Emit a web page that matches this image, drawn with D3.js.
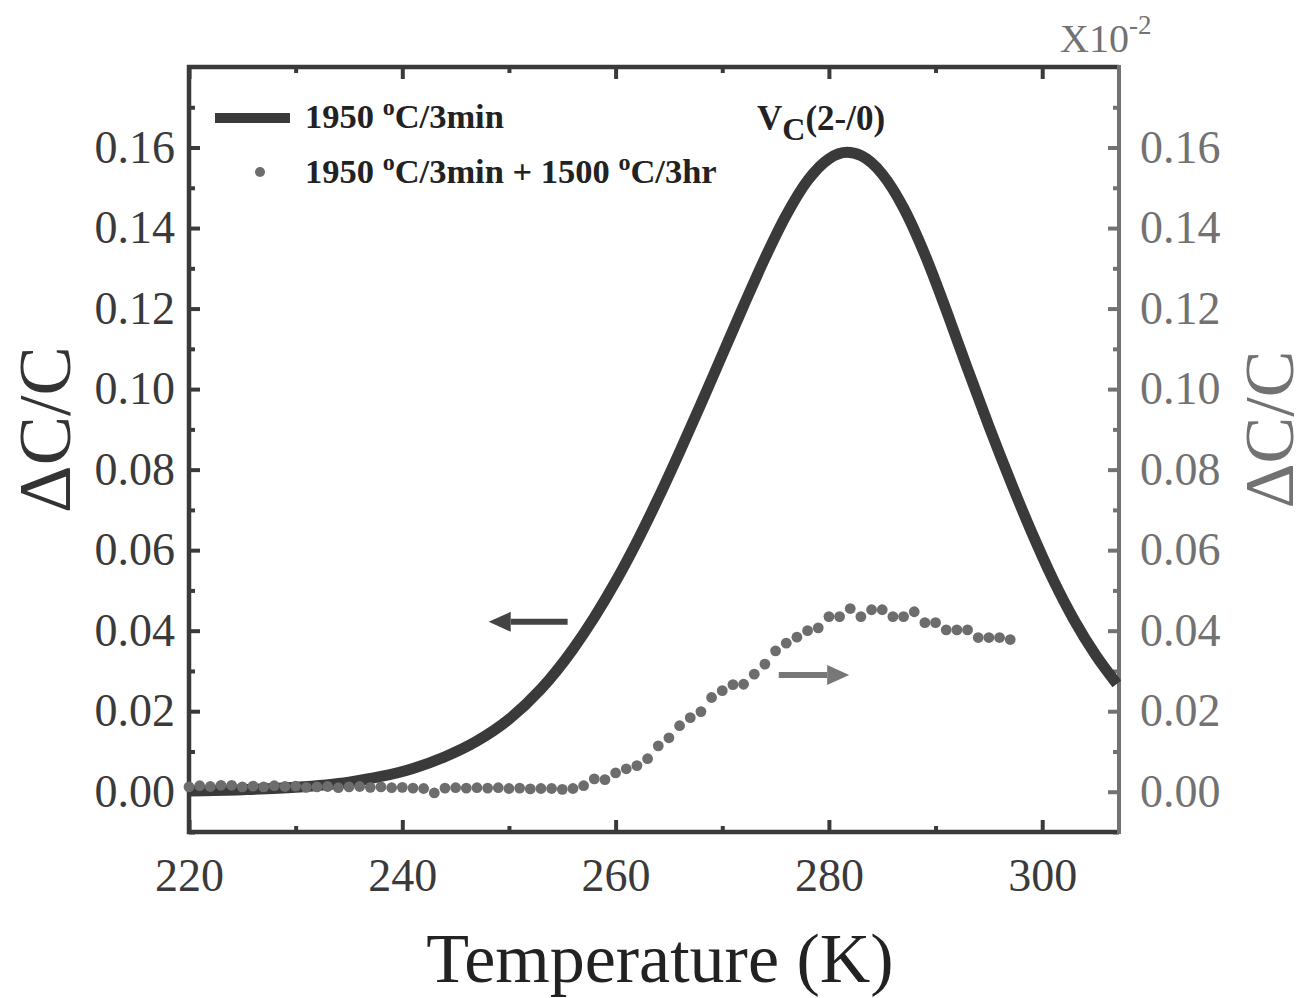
<!DOCTYPE html>
<html>
<head>
<meta charset="utf-8">
<script src="https://cdn.jsdelivr.net/npm/d3@7"></script>
<style>
body { margin: 0; background: #fff; }
text { font-family: "Liberation Serif", "Times New Roman", serif; }
</style>
</head>
<body>
<script>
// solid curve: 1950 C / 3min (left axis)
var curveT = [220, 225, 230, 235, 238, 241, 244, 247, 250, 253, 256, 258, 260, 262, 264, 266, 268, 270, 272, 274, 276, 278, 280, 281.7, 283, 285, 287, 289, 291, 293, 295, 297, 299, 301, 303, 305, 307];
var curveV = [0.0002, 0.0005, 0.0011, 0.0024, 0.0038, 0.0058, 0.0087, 0.0126, 0.0180, 0.0255, 0.0354, 0.0433, 0.0522, 0.0621, 0.0729, 0.0844, 0.0963, 0.1085, 0.1207, 0.1325, 0.1432, 0.1518, 0.1572, 0.1588, 0.1580, 0.1534, 0.1450, 0.1334, 0.1196, 0.1050, 0.0908, 0.0773, 0.0645, 0.0528, 0.0426, 0.0340, 0.0268];

// dots: 1950 C / 3min + 1500 C / 3hr (right axis, x10^-2)
var dotT = [220, 221, 222, 223, 224, 225, 226, 227, 228, 229, 230, 231, 232, 233, 234, 235, 236, 237, 238, 239,
            240, 241, 242, 243, 244, 245, 246, 247, 248, 249, 250, 251, 252, 253, 254, 255, 256, 257, 258, 259,
            260, 261, 262, 263, 264, 265, 266, 267, 268, 269, 270, 271, 272, 273, 274, 275, 276, 277, 278, 279,
            280, 281, 282, 283, 284, 285, 286, 287, 288, 289, 290, 291, 292, 293, 294, 295, 296, 297];
var dotV = [0.0012, 0.0015, 0.0013, 0.0016, 0.0016, 0.0012, 0.0014, 0.0012, 0.0015, 0.0013, 0.0014, 0.0011, 0.0012, 0.0013, 0.0010, 0.0012, 0.0013, 0.0011, 0.0012, 0.0010,
            0.0011, 0.0009, 0.0008, -0.0003, 0.0009, 0.0010, 0.0009, 0.0010, 0.0009, 0.0010, 0.0008, 0.0009, 0.0007, 0.0008, 0.0008, 0.0006, 0.0008, 0.0015, 0.0032, 0.0030,
            0.0047, 0.0057, 0.0065, 0.0082, 0.0114, 0.0134, 0.0164, 0.0184, 0.0199, 0.0234, 0.0251, 0.0266, 0.0267, 0.0292, 0.0317, 0.0350, 0.0369, 0.0384, 0.0400, 0.0407,
            0.0435, 0.0435, 0.0455, 0.0435, 0.0452, 0.0452, 0.0435, 0.0435, 0.0447, 0.0420, 0.0420, 0.0402, 0.0402, 0.0402, 0.0383, 0.0383, 0.0383, 0.0378];

var xTicks = [220, 240, 260, 280, 300];
var xMinor = [230, 250, 270, 290];
var yTicks = [0, 0.02, 0.04, 0.06, 0.08, 0.10, 0.12, 0.14, 0.16];
var yMinor = [-0.01, 0.01, 0.03, 0.05, 0.07, 0.09, 0.11, 0.13, 0.15, 0.17];

var w = 1311, h = 998;
var margin = {left: 189, right: 192, top: 67, bottom: 166};
var dark = "#3a3a3a", grey = "#727272";

var svg = d3.select("body").append("svg")
    .attr("width", w)
    .attr("height", h);

var x = d3.scaleLinear().domain([220, 307.2]).range([margin.left, w - margin.right]);
var y = d3.scaleLinear().domain([-0.01, 0.18]).range([h - margin.bottom, margin.top]);

var x0 = x.range()[0], x1 = x.range()[1], y0 = y.range()[0], y1 = y.range()[1];

function styleAxis(g, color, fs) {
    g.select(".domain").remove();
    g.selectAll("line").attr("stroke", color).attr("stroke-width", 4);
    g.selectAll("text").attr("fill", color).attr("font-size", fs)
        .attr("font-family", "'Liberation Serif', 'Times New Roman', serif");
}

// left axis
svg.append("g").attr("transform", "translate(" + x0 + ",0)")
    .call(d3.axisLeft(y).tickValues(yTicks).tickSize(-11).tickPadding(14).tickFormat(d3.format(".2f")))
    .call(styleAxis, dark, 46);
svg.append("g").attr("transform", "translate(" + x0 + ",0)")
    .call(d3.axisLeft(y).tickValues(yMinor).tickSize(-6).tickFormat(""))
    .call(styleAxis, dark, 46);

// right axis
svg.append("g").attr("transform", "translate(" + x1 + ",0)")
    .call(d3.axisRight(y).tickValues(yTicks).tickSize(-11).tickPadding(21).tickFormat(d3.format(".2f")))
    .call(styleAxis, grey, 46);
svg.append("g").attr("transform", "translate(" + x1 + ",0)")
    .call(d3.axisRight(y).tickValues(yMinor).tickSize(-6).tickFormat(""))
    .call(styleAxis, grey, 46);

// bottom axis
svg.append("g").attr("transform", "translate(0," + y0 + ")")
    .call(d3.axisBottom(x).tickValues(xTicks).tickSize(-12).tickPadding(26).tickFormat(d3.format("d")))
    .call(styleAxis, dark, 46);
svg.append("g").attr("transform", "translate(0," + y0 + ")")
    .call(d3.axisBottom(x).tickValues(xMinor).tickSize(-6).tickFormat(""))
    .call(styleAxis, dark, 46);

// top axis
svg.append("g").attr("transform", "translate(0," + y1 + ")")
    .call(d3.axisTop(x).tickValues(xTicks).tickSize(-12).tickFormat(""))
    .call(styleAxis, dark, 46);
svg.append("g").attr("transform", "translate(0," + y1 + ")")
    .call(d3.axisTop(x).tickValues(xMinor).tickSize(-6).tickFormat(""))
    .call(styleAxis, dark, 46);

// frame
svg.append("path").attr("d", "M" + x1 + "," + y1 + "H" + x0 + "V" + y0 + "H" + x1)
    .attr("fill", "none").attr("stroke", dark).attr("stroke-width", 4.5);
svg.append("line").attr("x1", x1).attr("x2", x1).attr("y1", y1 - 2).attr("y2", y0 + 2)
    .attr("stroke", grey).attr("stroke-width", 4);

// data
var curve = curveT.map(function(t, i) { return [t, curveV[i]]; });
var line = d3.line()
    .x(function(d) { return x(d[0]); })
    .y(function(d) { return y(d[1]); })
    .curve(d3.curveMonotoneX);

svg.append("path").datum(curve)
    .attr("d", line)
    .attr("fill", "none")
    .attr("stroke", dark)
    .attr("stroke-width", 11);

svg.selectAll("circle.dot")
    .data(dotT)
    .enter()
    .append("circle")
    .attr("class", "dot")
    .attr("cx", function(d) { return x(d); })
    .attr("cy", function(d, i) { return y(dotV[i]); })
    .attr("r", 5.4)
    .attr("fill", "#6d6d6d");

// arrows
var arrows = [
    {from: [255.5, 0.0422], to: [248.1, 0.0422], color: "#444"},
    {from: [275.3, 0.0290], to: [281.9, 0.0290], color: "#777"}
];
arrows.forEach(function(a) {
    var xa = x(a.from[0]), xb = x(a.to[0]), ya = y(a.from[1]);
    var dir = xb > xa ? 1 : -1;
    var hl = 22;
    svg.append("line").attr("x1", xa).attr("x2", xb - dir * hl).attr("y1", ya).attr("y2", ya)
        .attr("stroke", a.color).attr("stroke-width", 6);
    svg.append("path")
        .attr("d", "M" + xb + "," + ya + "L" + (xb - dir * hl) + "," + (ya - 10) + "L" + (xb - dir * hl) + "," + (ya + 10) + "Z")
        .attr("fill", a.color);
});

// peak label
var pk = svg.append("text").attr("x", 757).attr("y", 130)
    .attr("font-size", 35).attr("font-weight", "bold").attr("fill", "#222");
pk.append("tspan").text("V");
pk.append("tspan").attr("dy", 10).attr("font-size", 32).text("C");
pk.append("tspan").attr("dy", -10).text("(2-/0)");

// legend
svg.append("line").attr("x1", 215).attr("x2", 290).attr("y1", 118).attr("y2", 118)
    .attr("stroke", dark).attr("stroke-width", 10);
svg.append("circle").attr("cx", 260).attr("cy", 172).attr("r", 5).attr("fill", "#6d6d6d");

function degText(yy, parts) {
    var t = svg.append("text").attr("x", 305).attr("y", yy)
        .attr("font-size", 34.5).attr("font-weight", "bold").attr("fill", "#222");
    parts.forEach(function(p) {
        if (p === "o") {
            t.append("tspan").attr("dy", -13).attr("font-size", 24).text("o");
        } else {
            t.append("tspan").attr("dy", p.up ? 13 : 0).text(p.s);
        }
    });
}
degText(128, [{s: "1950 "}, "o", {s: "C/3min", up: true}]);
degText(183, [{s: "1950 "}, "o", {s: "C/3min + 1500 ", up: true}, "o", {s: "C/3hr", up: true}]);

// axis titles
svg.append("text")
    .attr("x", (x0 + x1) / 2 + 6).attr("y", 982)
    .attr("text-anchor", "middle")
    .attr("font-size", 70).attr("fill", "#222")
    .text("Temperature (K)");

svg.append("text")
    .attr("transform", "translate(70," + ((y0 + y1) / 2 - 20) + ") rotate(-90)")
    .attr("text-anchor", "middle")
    .attr("font-size", 74).attr("fill", "#333")
    .text("\u0394C/C");

svg.append("text")
    .attr("transform", "translate(1293," + ((y0 + y1) / 2 - 20) + ") rotate(-90)")
    .attr("text-anchor", "middle")
    .attr("font-size", 70).attr("fill", grey)
    .text("\u0394C/C");

// scale factor
var sf = svg.append("text").attr("x", 1060).attr("y", 52)
    .attr("font-size", 40).attr("fill", grey);
sf.append("tspan").text("X10");
sf.append("tspan").attr("dy", -18).attr("font-size", 27).text("-2");
</script>
</body>
</html>
